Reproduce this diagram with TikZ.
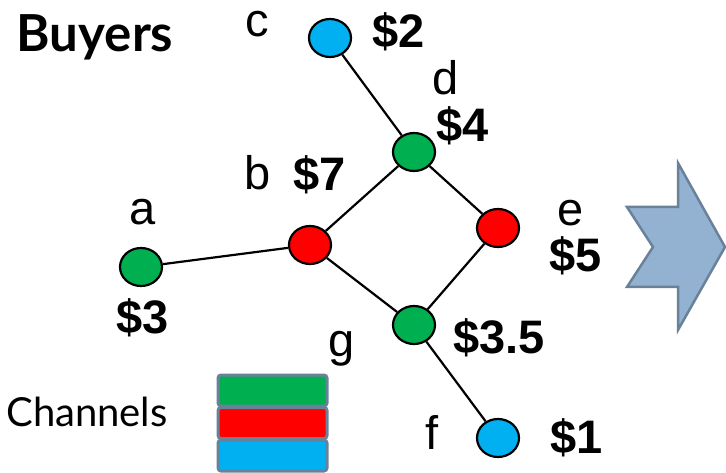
\documentclass[tikz,border=0pt]{standalone}
\usepackage{fontspec}
\setmainfont{Liberation Sans}
\newfontfamily\gillfont{Lato}
\usepackage{xcolor}
\usetikzlibrary{shapes.geometric}
\definecolor{chgreen}{HTML}{00B050}
\definecolor{chred}{HTML}{FF0000}
\definecolor{chblue}{HTML}{00B0F0}
\definecolor{slate}{HTML}{6A8299}
\definecolor{arrowfill}{HTML}{93B1D1}

\begin{document}
\begin{tikzpicture}[x=1pt, y=-1pt,
    buyer/.style={ellipse, draw=black, line width=2.2pt, minimum width=42pt, minimum height=38pt, inner sep=0pt},
    link/.style={line width=2.2pt},
    lbl/.style={font=\fontsize{47}{50}\selectfont},
    price/.style={font=\fontsize{47}{50}\selectfont\bfseries},
    bar/.style={draw=slate, line width=3pt, rounded corners=3pt}]
        \useasboundingbox (0,0) rectangle (726,473);
        % Buyers and the links between them
        \foreach \n/\x/\y/\col in {c/330/38/chblue, d/414/152/chgreen, b/310/245/chred, e/498/228/chred,
                                   a/141/267/chgreen, g/414/325/chgreen, f/498/438/chblue} {
            \node[buyer, fill=\col] (\n) at (\x,\y) {};
        }
        \foreach \u/\v in {c/d, d/b, d/e, b/a, b/g, e/g, g/f} {
            \draw[link] (\u) -- (\v);
        }
        % Names and prices
        \foreach \n/\x/\y in {c/257/24, d/446/78, b/258/173, a/143/212, e/571/213, g/342/349, f/432/432} {
            \node[lbl] (l\n) at (\x,\y) {\n};
        }
        \foreach \n/\p/\x/\y in {c/\$2/399/32, d/\$4/463/126, b/\$7/320/175, a/\$3/143/318,
                                 e/\$5/576/256, g/\$3.5/499/338, f/\$1/577/438} {
            \node[price] (p\n) at (\x,\y) {\p};
        }
        \node[font=\gillfont\bfseries\fontsize{51}{54}\selectfont] (buyers) at (95,37) {Buyers};
        % Channel legend
        \node[font=\gillfont\fontsize{40}{44}\selectfont] (channels) at (87,412) {Channels};
        \foreach \i/\col in {0/chgreen, 1/chred, 2/chblue} {
            \draw[bar, fill=\col] (218,375+32.5*\i) rectangle +(109,31);
        }
        % Arrow on the right
        \draw[draw=slate, fill=arrowfill, line width=2.5pt] (627,207) -- (678,207) -- (678,163) -- (725,247)
            -- (678,330) -- (678,287) -- (627,287) -- (653,247) -- cycle;
\end{tikzpicture}
\end{document}
